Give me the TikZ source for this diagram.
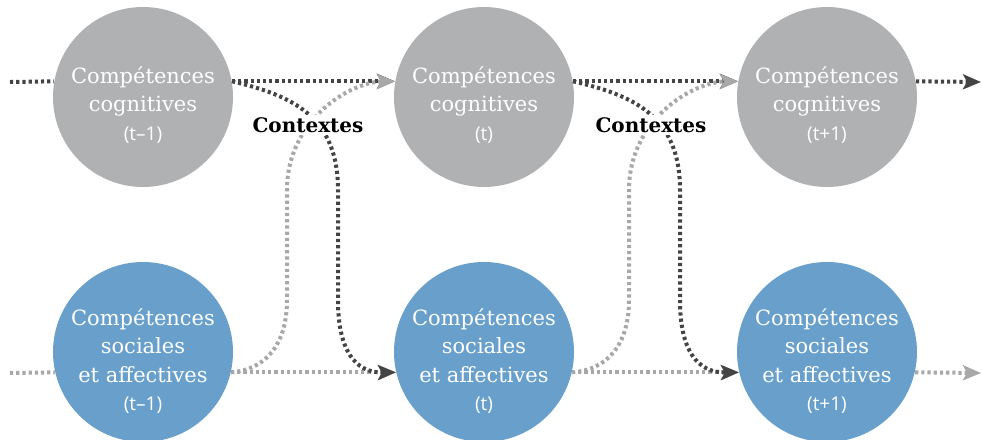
\documentclass[tikz,border=0pt]{standalone}
\usepackage{fontspec}
\newfontfamily\slabfont{DejaVu Serif}
\newfontfamily\parfont{Open Sans}
\usetikzlibrary{arrows.meta}
\definecolor{coggrey}{HTML}{B0B1B3}
\definecolor{socblue}{HTML}{68A0CB}
\definecolor{darkdot}{HTML}{444444}
\definecolor{lightdot}{HTML}{A8A8A8}
\tikzset{
    comp/.style={circle,minimum size=90pt,inner sep=0pt},
    cog/.style={comp,fill=coggrey},
    soc/.style={comp,fill=socblue},
    comptext/.style={text=white,align=center,font={\slabfont\fontsize{10.5}{14.3}\selectfont}},
    dotline/.style={line width=2pt,dash pattern=on 1.6pt off 1.5pt},
    darkline/.style={dotline,draw=darkdot},
    greyline/.style={dotline,draw=lightdot},
    tipped/.style={-{Stealth[length=9pt,width=7.5pt,inset=2pt]}},
    ctx/.style={fill=white,inner sep=1pt,font={\slabfont\bfseries\fontsize{10}{12}\selectfont}}
}
\begin{document}
\begin{tikzpicture}[x=0.5pt,y=-0.5pt]
            \useasboundingbox (0,0) rectangle (982,440);
            \node[cog] (a1) at (143,97) {};
            \node[cog] (a2) at (484,97) {};
            \node[cog] (a3) at (827,97) {};
            \node[soc] (b1) at (143,352) {};
            \node[soc] (b2) at (484,352) {};
            \node[soc] (b3) at (827,352) {};
            \node[comptext] (a1t) at (143,105) {Compétences\\cognitives\\{\parfont\fontsize{9.5}{10}\selectfont(t–1)}};
            \node[comptext] (a2t) at (484,105) {Compétences\\cognitives\\{\parfont\fontsize{9.5}{10}\selectfont(t)}};
            \node[comptext] (a3t) at (827,105) {Compétences\\cognitives\\{\parfont\fontsize{9.5}{10}\selectfont(t+1)}};
            \node[comptext] (b1t) at (143,361) {Compétences\\sociales\\et affectives\\{\parfont\fontsize{9.5}{10}\selectfont(t–1)}};
            \node[comptext] (b2t) at (484,361) {Compétences\\sociales\\et affectives\\{\parfont\fontsize{9.5}{10}\selectfont(t)}};
            \node[comptext] (b3t) at (827,361) {Compétences\\sociales\\et affectives\\{\parfont\fontsize{9.5}{10}\selectfont(t+1)}};
            \coordinate (inA) at (10,82);
            \coordinate (outA) at (981,82);
            \coordinate (inB) at (10,373);
            \coordinate (outB) at (981,373);
            % straight lines
            \draw[darkline] (inA) -- (a1.170);
            \draw[darkline,tipped] (a1.10) -- (a2.170);
            \draw[darkline,tipped] (a2.10) -- (a3.170);
            \draw[darkline,tipped] (a3.10) -- (outA);
            \draw[greyline] (inB) -- (b1.193.5);
            \draw[greyline,tipped] (b1.-13.5) -- (b2.193.5);
            \draw[greyline,tipped] (b2.-13.5) -- (b3.193.5);
            \draw[greyline,tipped] (b3.-13.5) -- (outB);
            % crossing curves
            \draw[darkline,tipped] (a1.10) .. controls (290,95) and (338,115) .. (338,190) -- (338,300) .. controls (338,350) and (355,373) .. (b2.193.5);
            \draw[greyline,tipped] (b1.-13.5) .. controls (265,370) and (287,345) .. (287,300) -- (287,190) .. controls (287,120) and (350,82) .. (a2.170);
            \draw[darkline,tipped] (a2.10) .. controls (632,95) and (680,115) .. (680,190) -- (680,300) .. controls (680,350) and (697,373) .. (b3.193.5);
            \draw[greyline,tipped] (b2.-13.5) .. controls (607,370) and (629,345) .. (629,300) -- (629,190) .. controls (629,120) and (692,82) .. (a3.170);
            \node[ctx] (ctx1) at (308,125) {Contextes};
            \node[ctx] (ctx2) at (651,125) {Contextes};
        \end{tikzpicture}
\end{document}
